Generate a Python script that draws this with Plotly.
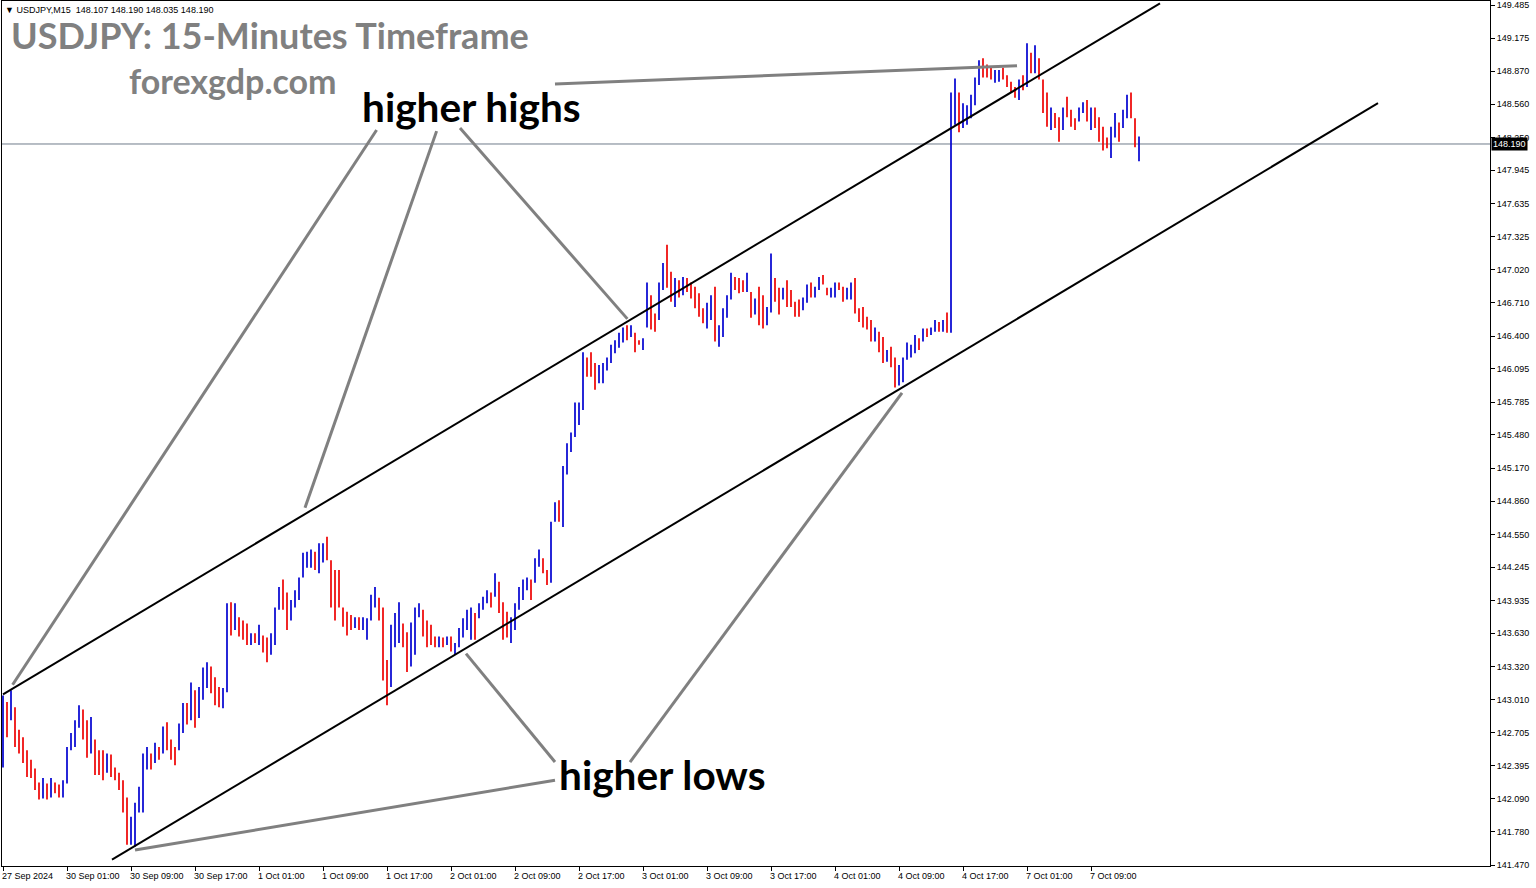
import plotly.graph_objects as go

# ---------------- data (30-minute bars) ----------------
first_open = 142.45

highs = [
    143.05, 142.99, 143.10, 142.94, 142.73, 142.66, 142.54, 142.45, 142.37, 142.24,
    142.28, 142.23, 142.28, 142.24, 142.22, 142.26, 142.57, 142.70, 142.82, 142.96,
    142.92, 142.82, 142.85, 142.64, 142.54, 142.54, 142.51, 142.50, 142.38, 142.33,
    142.26, 142.10, 141.92, 142.05, 142.20, 142.51, 142.57, 142.51, 142.61, 142.57,
    142.76, 142.80, 142.64, 142.57, 142.79, 142.98, 142.98, 143.17, 143.10, 143.13,
    143.31, 143.36, 143.32, 143.22, 143.13, 143.12, 143.91, 143.92, 143.91, 143.78,
    143.75, 143.72, 143.63, 143.63, 143.71, 143.61, 143.59, 143.63, 143.87, 144.06,
    144.13, 144.01, 143.94, 144.03, 144.15, 144.38, 144.39, 144.41, 144.39, 144.47,
    144.47, 144.53, 144.31, 144.22, 144.22, 143.87, 143.83, 143.80, 143.78, 143.78,
    143.78, 143.77, 143.99, 144.06, 143.96, 143.87, 143.38, 143.71, 143.82, 143.92,
    143.72, 143.64, 143.73, 143.87, 143.91, 143.85, 143.75, 143.71, 143.60, 143.60,
    143.59, 143.60, 143.60, 143.54, 143.68, 143.77, 143.85, 143.87, 143.82, 143.91,
    143.97, 144.03, 144.01, 144.19, 144.11, 143.92, 143.83, 143.78, 143.91, 144.06,
    144.13, 144.15, 144.13, 144.33, 144.41, 144.33, 144.22, 144.67, 144.85, 144.87,
    145.19, 145.40, 145.50, 145.78, 145.78, 146.25, 146.20, 146.25, 146.15, 146.13,
    146.15, 146.20, 146.32, 146.36, 146.43, 146.48, 146.50, 146.50, 146.43, 146.36,
    146.38, 146.90, 146.78, 146.61, 146.90, 147.08, 147.25, 147.00, 146.94, 146.92,
    146.95, 146.94, 146.90, 146.86, 146.80, 146.66, 146.71, 146.78, 146.86, 146.50,
    146.66, 146.78, 146.99, 146.95, 146.94, 146.92, 146.99, 146.81, 146.75, 146.86,
    146.78, 146.67, 147.17, 146.94, 146.85, 146.85, 146.92, 146.83, 146.72, 146.74,
    146.76, 146.88, 146.90, 146.86, 146.95, 146.97, 146.85, 146.85, 146.90, 146.90,
    146.86, 146.85, 146.90, 146.94, 146.66, 146.67, 146.58, 146.55, 146.48, 146.44,
    146.39, 146.27, 146.30, 146.20, 146.13, 146.20, 146.34, 146.32, 146.41, 146.38,
    146.47, 146.47, 146.48, 146.55, 146.53, 146.55, 146.62, 148.67, 148.80, 148.67,
    148.57, 148.55, 148.65, 148.81, 148.97, 148.99, 148.93, 148.90, 148.88, 148.88,
    148.90, 148.83, 148.77, 148.72, 148.79, 148.83, 149.13, 149.04, 149.11, 148.99,
    148.79, 148.67, 148.53, 148.48, 148.44, 148.53, 148.63, 148.51, 148.43, 148.53,
    148.58, 148.60, 148.53, 148.53, 148.44, 148.35, 148.25, 148.35, 148.48, 148.39,
    148.51, 148.65, 148.67, 148.43, 148.26,
]

lows = [
    142.38, 142.66, 142.82, 142.57, 142.51, 142.42, 142.29, 142.28, 142.17, 142.08,
    142.09, 142.08, 142.10, 142.14, 142.10, 142.10, 142.23, 142.54, 142.57, 142.75,
    142.64, 142.47, 142.51, 142.31, 142.31, 142.26, 142.33, 142.29, 142.26, 142.17,
    141.96, 141.66, 141.66, 141.64, 141.96, 141.96, 142.36, 142.36, 142.42, 142.45,
    142.51, 142.54, 142.45, 142.40, 142.54, 142.70, 142.78, 142.82, 142.75, 142.84,
    143.01, 143.12, 143.07, 142.96, 142.94, 142.93, 143.08, 143.61, 143.66, 143.60,
    143.57, 143.52, 143.52, 143.54, 143.52, 143.45, 143.36, 143.43, 143.52, 143.85,
    143.85, 143.66, 143.75, 143.87, 143.94, 144.15, 144.24, 144.24, 144.22, 144.19,
    144.29, 144.31, 143.87, 143.75, 143.87, 143.69, 143.61, 143.66, 143.68, 143.66,
    143.66, 143.57, 143.75, 143.87, 143.75, 143.19, 142.96, 143.13, 143.50, 143.54,
    143.50, 143.27, 143.32, 143.43, 143.78, 143.60, 143.50, 143.52, 143.50, 143.50,
    143.50, 143.52, 143.46, 143.43, 143.50, 143.59, 143.66, 143.57, 143.57, 143.77,
    143.85, 143.91, 143.87, 143.97, 143.82, 143.57, 143.59, 143.54, 143.66, 143.85,
    143.94, 144.03, 143.94, 144.10, 144.25, 144.19, 144.08, 144.10, 144.67, 144.67,
    144.62, 145.11, 145.32, 145.46, 145.57, 145.71, 146.02, 146.02, 145.90, 145.96,
    145.96, 146.08, 146.15, 146.24, 146.29, 146.34, 146.36, 146.39, 146.25, 146.32,
    146.27, 146.48, 146.46, 146.44, 146.55, 146.83, 146.85, 146.72, 146.67, 146.76,
    146.78, 146.81, 146.75, 146.66, 146.58, 146.52, 146.47, 146.55, 146.35, 146.30,
    146.39, 146.57, 146.74, 146.83, 146.80, 146.81, 146.81, 146.57, 146.60, 146.50,
    146.47, 146.50, 146.62, 146.72, 146.60, 146.74, 146.67, 146.67, 146.58, 146.58,
    146.64, 146.71, 146.76, 146.76, 146.83, 146.88, 146.78, 146.76, 146.76, 146.83,
    146.72, 146.74, 146.74, 146.61, 146.53, 146.48, 146.46, 146.35, 146.35, 146.25,
    146.15, 146.16, 146.11, 145.92, 145.94, 145.97, 146.18, 146.20, 146.24, 146.27,
    146.35, 146.39, 146.41, 146.44, 146.44, 146.44, 146.43, 146.43, 148.37, 148.30,
    148.34, 148.37, 148.43, 148.55, 148.74, 148.81, 148.81, 148.79, 148.76, 148.77,
    148.79, 148.72, 148.67, 148.62, 148.60, 148.69, 148.72, 148.85, 148.85, 148.79,
    148.48, 148.35, 148.32, 148.34, 148.21, 148.32, 148.44, 148.35, 148.32, 148.40,
    148.48, 148.40, 148.32, 148.34, 148.21, 148.13, 148.15, 148.06, 148.25, 148.21,
    148.34, 148.43, 148.43, 148.16, 148.03,
]

closes = [
    143.01, 142.78, 143.01, 142.59, 142.59, 142.45, 142.31, 142.31, 142.19, 142.12,
    142.22, 142.12, 142.22, 142.17, 142.17, 142.22, 142.54, 142.66, 142.80, 142.90,
    142.73, 142.59, 142.64, 142.45, 142.45, 142.40, 142.47, 142.45, 142.31, 142.19,
    141.98, 141.70, 141.80, 142.00, 142.12, 142.45, 142.50, 142.45, 142.56, 142.54,
    142.70, 142.64, 142.50, 142.45, 142.75, 142.92, 142.87, 143.10, 142.82, 143.05,
    143.24, 143.29, 143.15, 143.05, 143.01, 143.08, 143.85, 143.75, 143.83, 143.66,
    143.61, 143.57, 143.59, 143.57, 143.66, 143.49, 143.47, 143.57, 143.80, 143.99,
    143.94, 143.80, 143.85, 143.99, 144.13, 144.31, 144.31, 144.36, 144.27, 144.41,
    144.42, 144.36, 143.99, 143.94, 143.89, 143.75, 143.71, 143.71, 143.75, 143.71,
    143.73, 143.75, 143.94, 143.99, 143.80, 143.24, 143.10, 143.66, 143.75, 143.83,
    143.54, 143.38, 143.57, 143.83, 143.85, 143.63, 143.63, 143.57, 143.54, 143.57,
    143.54, 143.57, 143.47, 143.52, 143.61, 143.73, 143.73, 143.83, 143.66, 143.89,
    143.89, 144.01, 143.94, 144.15, 143.89, 143.66, 143.66, 143.71, 143.87, 144.01,
    144.03, 144.08, 144.03, 144.27, 144.33, 144.24, 144.11, 144.64, 144.73, 144.70,
    145.15, 145.34, 145.46, 145.62, 145.73, 146.18, 146.16, 146.06, 145.99, 146.01,
    146.10, 146.18, 146.27, 146.34, 146.39, 146.46, 146.41, 146.46, 146.36, 146.34,
    146.36, 146.69, 146.64, 146.57, 146.88, 147.02, 146.97, 146.78, 146.88, 146.83,
    146.89, 146.88, 146.78, 146.69, 146.60, 146.57, 146.64, 146.75, 146.41, 146.46,
    146.64, 146.75, 146.94, 146.90, 146.88, 146.88, 146.92, 146.60, 146.74, 146.60,
    146.53, 146.60, 146.83, 146.75, 146.75, 146.81, 146.74, 146.69, 146.64, 146.62,
    146.74, 146.83, 146.80, 146.83, 146.90, 146.89, 146.80, 146.81, 146.88, 146.85,
    146.74, 146.83, 146.83, 146.69, 146.60, 146.55, 146.47, 146.38, 146.41, 146.29,
    146.18, 146.25, 146.13, 145.99, 146.07, 146.18, 146.27, 146.27, 146.36, 146.32,
    146.44, 146.43, 146.46, 146.47, 146.46, 146.52, 146.46, 148.41, 148.51, 148.37,
    148.46, 148.49, 148.60, 148.79, 148.94, 148.86, 148.83, 148.80, 148.83, 148.86,
    148.80, 148.74, 148.67, 148.65, 148.77, 148.71, 149.02, 148.88, 149.05, 148.80,
    148.51, 148.37, 148.49, 148.41, 148.25, 148.51, 148.49, 148.37, 148.34, 148.51,
    148.51, 148.41, 148.46, 148.37, 148.37, 148.18, 148.18, 148.32, 148.37, 148.32,
    148.48, 148.62, 148.46, 148.18, 148.19,
]

# time-axis labels (every 16 bars of 30 minutes = 8 hours)
time_labels = ["27 Sep 2024", "30 Sep 01:00", "30 Sep 09:00", "30 Sep 17:00",
               "1 Oct 01:00", "1 Oct 09:00", "1 Oct 17:00", "2 Oct 01:00",
               "2 Oct 09:00", "2 Oct 17:00", "3 Oct 01:00", "3 Oct 09:00",
               "3 Oct 17:00", "4 Oct 01:00", "4 Oct 09:00", "4 Oct 17:00",
               "7 Oct 01:00", "7 Oct 09:00"]
label_step = 16

price_ticks = [149.485, 149.175, 148.870, 148.560, 148.250, 147.945, 147.635,
               147.325, 147.020, 146.710, 146.400, 146.095, 145.785, 145.480,
               145.170, 144.860, 144.550, 144.245, 143.935, 143.630, 143.320,
               143.010, 142.705, 142.395, 142.090, 141.780, 141.470]

header_values = [148.107, 148.190, 148.035, 148.190]
last_price = 148.190

# drawn lines, endpoints in (bar index, price)
channel_upper = [(0, 143.06), (289.25, 149.50)]
channel_lower = [(27.25, 141.52), (343.75, 148.57)]
pointer_lines = [
    [(138, 148.75), (253.5, 148.92)],
    [(93.4, 148.32), (2.4, 143.15)],
    [(108.4, 148.31), (75.5, 144.80)],
    [(114.25, 148.34), (156.1, 146.56)],
    [(138, 142.43), (115.75, 143.44)],
    [(156.75, 142.43), (224.75, 145.87)],
    [(138, 142.26), (33, 141.61)],
]

# ---------------- figure ----------------
idx = list(range(len(closes)))
opens = [first_open] + closes[:-1]

W, H = 1536, 888
ML, MR, MT, MB = 2, 46, 1, 22
PW, PH = W - ML - MR, H - MT - MB


def px(x):
    return (x - ML) / PW


def py(y):
    return (H - MB - y) / PH


fig = go.Figure()
fig.add_trace(go.Ohlc(
    x=idx, open=opens, high=highs, low=lows, close=closes,
    increasing=dict(line=dict(color="#0000D0", width=1.7)),
    decreasing=dict(line=dict(color="#EE0000", width=1.7)),
    tickwidth=0, showlegend=False, hoverinfo="skip",
))

shapes = []
for (x0, y0), (x1, y1) in [channel_upper, channel_lower]:
    shapes.append(dict(type="line", xref="x", yref="y", x0=x0, y0=y0, x1=x1, y1=y1,
                       line=dict(color="#000000", width=2)))
for (x0, y0), (x1, y1) in pointer_lines:
    shapes.append(dict(type="line", xref="x", yref="y", x0=x0, y0=y0, x1=x1, y1=y1,
                       line=dict(color="#808080", width=3)))
shapes.append(dict(type="line", xref="paper", yref="y", x0=0, x1=1,
                   y0=last_price, y1=last_price,
                   line=dict(color="#6F7C8A", width=1), layer="below"))

annotations = []
tick_font = dict(family="Liberation Sans, Arial, sans-serif", size=9, color="#000000")
for k, lab in enumerate(time_labels):
    annotations.append(dict(x=k * label_step, y=0, xref="x", yref="paper",
                            text=lab, showarrow=False, xanchor="left", yanchor="top",
                            xshift=-3, yshift=-3, font=tick_font))

hdr = "\u25BC USDJPY,M15  " + " ".join(f"{v:.3f}" for v in header_values)
annotations.append(dict(x=px(3), y=py(10), xref="paper", yref="paper", text=hdr,
                        showarrow=False, xanchor="left", yanchor="middle",
                        font=dict(family="Liberation Sans, Arial, sans-serif", size=9,
                                  color="#000000")))
big = "Lato, Calibri, sans-serif"
annotations.append(dict(x=px(9), y=py(35), xref="paper", yref="paper",
                        text="<b>USDJPY: 15-Minutes Timeframe</b>", showarrow=False,
                        xanchor="left", yanchor="middle",
                        font=dict(family=big, size=36, color="#808080")))
annotations.append(dict(x=px(127), y=py(81), xref="paper", yref="paper",
                        text="<b>forexgdp.com</b>", showarrow=False,
                        xanchor="left", yanchor="middle",
                        font=dict(family=big, size=34, color="#808080")))
annotations.append(dict(x=px(360), y=py(106), xref="paper", yref="paper",
                        text="<b>higher highs</b>", showarrow=False,
                        xanchor="left", yanchor="middle",
                        font=dict(family=big, size=40.6, color="#000000")))
annotations.append(dict(x=px(557), y=py(774), xref="paper", yref="paper",
                        text="<b>higher lows</b>", showarrow=False,
                        xanchor="left", yanchor="middle",
                        font=dict(family=big, size=40.6, color="#000000")))
annotations.append(dict(x=1, y=last_price, xref="paper", yref="y",
                        text=f"{last_price:.3f}", showarrow=False,
                        xanchor="left", yanchor="middle", xshift=1,
                        bgcolor="#000000", borderpad=1,
                        font=dict(family="Liberation Sans, Arial, sans-serif", size=9,
                                  color="#FFFFFF")))

y_top = 149.532 - 0.00932 * 1
y_bot = 149.532 - 0.00932 * 866

fig.update_layout(
    width=W, height=H, autosize=False,
    margin=dict(l=ML, r=MR, t=MT, b=MB, pad=0),
    paper_bgcolor="#FFFFFF", plot_bgcolor="#FFFFFF",
    shapes=shapes, annotations=annotations, showlegend=False,
    xaxis=dict(range=[-0.25, -0.25 + PW / 4], showgrid=False, zeroline=False,
               rangeslider=dict(visible=False),
               tickvals=[k * label_step for k in range(len(time_labels))],
               showticklabels=False, ticks="outside", ticklen=4, tickcolor="#000000",
               showline=True, mirror=True, linecolor="#000000", linewidth=1,
               fixedrange=True),
    yaxis=dict(range=[y_bot, y_top], side="right", showgrid=False, zeroline=False,
               tickvals=price_ticks, ticktext=[f"{v:.3f}" for v in price_ticks],
               ticks="outside", ticklen=4, tickcolor="#000000", tickfont=tick_font,
               showline=True, mirror=True, linecolor="#000000", linewidth=1,
               fixedrange=True),
)

fig.write_html("out.html", config={"displayModeBar": False},
               post_script="document.body.style.margin='0';document.body.style.overflow='hidden';")
